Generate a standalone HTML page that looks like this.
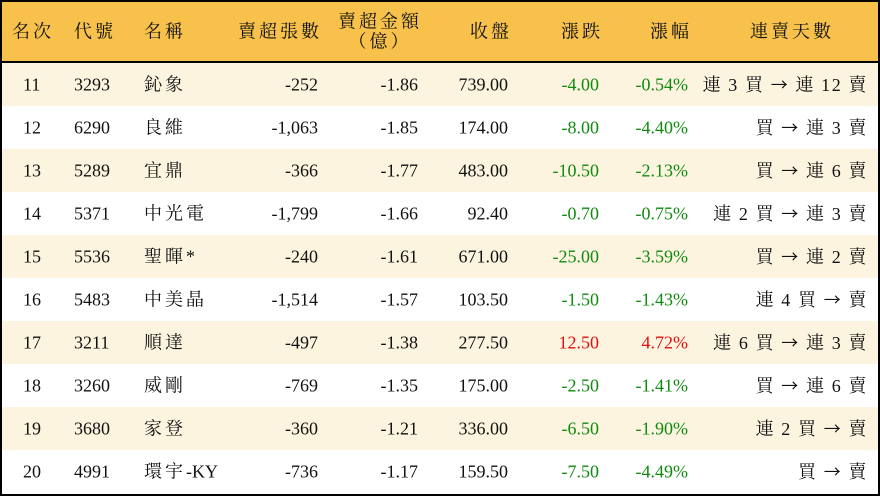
<!DOCTYPE html>
<html><head><meta charset="utf-8"><style>
*{margin:0;padding:0;box-sizing:border-box}
body{width:880px;height:496px;background:#fff;overflow:hidden;font-family:"Liberation Serif","Noto Serif CJK SC",serif;font-size:18px;color:#111}
.wrap{position:absolute;left:0;top:0;width:880px;height:496px;border:2px solid #000}
.hdr{position:absolute;left:0;top:0;width:876px;height:61px;background:#F7C14B;border-bottom:2px solid #000}
.row{position:absolute;left:0;width:876px;height:43px}
.alt{background:#FDF4E0}
.c{position:absolute;top:50%;transform:translateY(-50%);white-space:nowrap;line-height:1.15}
.k{letter-spacing:3px}
.n{letter-spacing:3px}
.l{letter-spacing:1.6px}
.a{font-family:"Noto Sans CJK SC",sans-serif;font-size:17px}
.g{color:#108a10}.r{color:#e01010}
</style></head><body><div class="wrap">
<div class="hdr">
<span class="c k" style="left:10px">名次</span>
<span class="c k" style="left:72px">代號</span>
<span class="c k" style="left:142px">名稱</span>
<span class="c k" style="right:556px">賣超張數</span>
<span class="c k" style="right:456px;text-align:center">賣超金額<br>（億）</span>
<span class="c k" style="right:366px">收盤</span>
<span class="c k" style="right:275px">漲跌</span>
<span class="c k" style="right:186px">漲幅</span>
<span class="c k" style="left:748px">連賣天數</span>
</div>
<div id="rows"></div>
</div>
<script>
var d=[["11","3293","鈊象","-252","-1.86","739.00","-4.00","-0.54%","連 3 買 → 連 12 賣"],
["12","6290","良維","-1,063","-1.85","174.00","-8.00","-4.40%","買 → 連 3 賣"],
["13","5289","宜鼎","-366","-1.77","483.00","-10.50","-2.13%","買 → 連 6 賣"],
["14","5371","中光電","-1,799","-1.66","92.40","-0.70","-0.75%","連 2 買 → 連 3 賣"],
["15","5536","聖暉*","-240","-1.61","671.00","-25.00","-3.59%","買 → 連 2 賣"],
["16","5483","中美晶","-1,514","-1.57","103.50","-1.50","-1.43%","連 4 買 → 賣"],
["17","3211","順達","-497","-1.38","277.50","12.50","4.72%","連 6 買 → 連 3 賣"],
["18","3260","威剛","-769","-1.35","175.00","-2.50","-1.41%","買 → 連 6 賣"],
["19","3680","家登","-360","-1.21","336.00","-6.50","-1.90%","連 2 買 → 賣"],
["20","4991","環宇-KY","-736","-1.17","159.50","-7.50","-4.49%","買 → 賣"]];
var h="";d.forEach(function(r,i){var cl=r[6][0]=="-"?"g":"r";
var last=r[8].replace(/ /g,"&nbsp;").replace("→",'<span class="a">→</span>');
var name=r[2]=="環宇-KY"?'<span class="n">環宇</span>-KY':'<span class="n">'+r[2]+'</span>';
h+='<div class="row'+(i%2==0?' alt':'')+'" style="top:'+(61+i*43)+'px">'+
'<span class="c" style="left:21px">'+r[0]+'</span>'+
'<span class="c" style="left:72px">'+r[1]+'</span>'+
'<span class="c" style="left:142px">'+name+'</span>'+
'<span class="c" style="right:560px">'+r[3]+'</span>'+
'<span class="c" style="right:460px">'+r[4]+'</span>'+
'<span class="c" style="right:370px">'+r[5]+'</span>'+
'<span class="c '+cl+'" style="right:279px">'+r[6]+'</span>'+
'<span class="c '+cl+'" style="right:190px">'+r[7]+'</span>'+
'<span class="c l" style="right:10px">'+last+'</span></div>';});
document.getElementById("rows").innerHTML=h;
</script></body></html>
